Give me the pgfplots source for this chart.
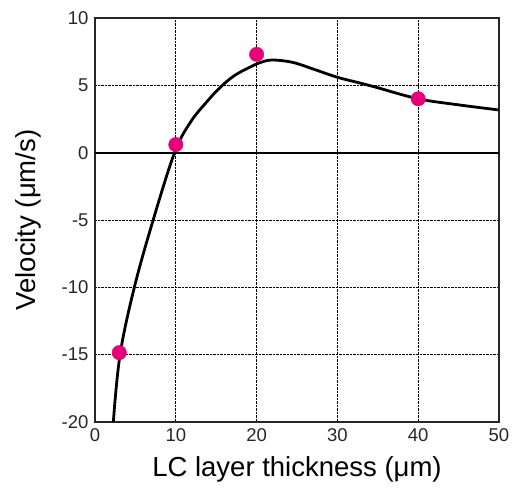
\documentclass[border=0pt]{standalone}
\usepackage{fontspec}
\setmainfont{Liberation Sans}
\usepackage{pgfplots}
\pgfplotsset{compat=1.18}

\begin{document}
\begin{tikzpicture}
\begin{axis}[
    name=ax,
    width=404pt, height=404pt,
    scale only axis,
    xmin=0, xmax=50,
    ymin=-20, ymax=10,
    xtick={0,10,...,50},
    ytick={-20,-15,...,10},
    major tick length=0pt,
    grid=major,
    grid style={black, densely dotted, line width=0.6pt},
    axis line style={black!85, line width=1.3pt},
    tick label style={font=\fontsize{18.5}{22}\selectfont, text=black!85},
    /pgf/number format/assume math mode=true,
    xticklabel style={yshift=-3pt},
    yticklabel style={xshift=-3pt},
    xlabel={LC layer thickness (μm)},
    ylabel={Velocity (μm/s)},
    label style={font=\fontsize{27.5}{32}\selectfont},
    xlabel style={at={(axis description cs:0.5,0)}, anchor=center, yshift=-47pt},
    ylabel style={at={(axis description cs:0,0.5)}, anchor=center, yshift=67pt},
]
% zero line
\addplot[black, line width=2pt] coordinates {(0,0) (50,0)};

% fitted curve
\addplot[black, line width=2.8pt, smooth, tension=0.6] coordinates {
    (2.27,-20) (3.1,-15) (4.87,-10) (7.2,-5) (9.85,0) (11.8,2.25)
    (13.8,3.75) (15.5,4.85) (17.2,5.7) (19,6.3) (20.5,6.7) (22,6.88)
    (24.5,6.7) (27,6.21) (30,5.6) (32.8,5.17) (35,4.82) (40,4.0)
    (45,3.55) (50,3.17)
};

% measured points
\addplot[only marks, mark=*, mark size=7.2pt, color={rgb,255:red,230;green,0;blue,120}] coordinates {
    (3,-14.85) (10,0.6) (20,7.3) (40,4.0)
};
\end{axis}
\pgfresetboundingbox
\path ([shift={(-95pt,-73pt)}]ax.south west) rectangle ([shift={(16pt,18pt)}]ax.north east);
\end{tikzpicture}
\end{document}
